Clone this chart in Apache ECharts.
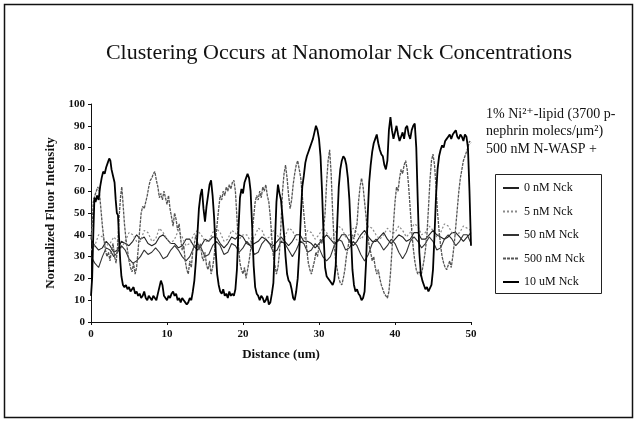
<!DOCTYPE html>
<html>
<head>
<meta charset="utf-8">
<script src="https://cdn.jsdelivr.net/npm/echarts@6/dist/echarts.min.js"></script>
<style>
html,body{margin:0;padding:0;background:#fff;}
#chart{width:638px;height:421px;}
</style>
</head>
<body>
<div id="chart"></div>
<script>
// ---------- DATA ----------
const titleText = 'Clustering Occurs at Nanomolar Nck Concentrations';
const seriesNames = ['0 nM Nck', '5 nM Nck', '50 nM Nck', '500 nM Nck', '10 uM Nck'];
const headerLines = ['1% Ni²⁺-lipid (3700 p-', 'nephrin molecs/μm²)', '500 nM N-WASP +'];

// distance grid (um) for the three flat traces
const distance = [0,0.5,1,1.5,2,2.5,3,3.5,4,4.5,5,5.5,6,6.5,7,7.5,8,8.5,9,9.5,10,
 10.5,11,11.5,12,12.5,13,13.5,14,14.5,15,15.5,16,16.5,17,17.5,18,18.5,19,19.5,20,
 20.5,21,21.5,22,22.5,23,23.5,24,24.5,25,25.5,26,26.5,27,27.5,28,28.5,29,29.5,30,
 30.5,31,31.5,32,32.5,33,33.5,34,34.5,35,35.5,36,36.5,37,37.5,38,38.5,39,39.5,40,
 40.5,41,41.5,42,42.5,43,43.5,44,44.5,45,45.5,46,46.5,47,47.5,48,48.5,49,49.5,50];

const nck0 = [38,35,33,34,37,35,32,33,37,36,35,37,40,38,39,36,35,36,39,40,38,
 36,36,34,35,38,38,35,33,35,38,37,39,39,36,34,36,39,38,40,39,
 36,35,36,37,39,38,36,35,37,39,37,35,37,40,40,37,37,36,34,36,
 38,40,38,36,37,40,40,37,35,37,40,42,39,37,37,39,41,38,36,38,
 40,39,37,38,41,41,38,38,40,42,40,39,38,39,41,41,39,37,39,41];

const nck5 = [33,35,40,39,35,36,39,37,34,37,41,40,37,37,42,41,37,38,43,41,38,
 36,38,42,39,35,36,40,42,40,37,37,41,43,41,37,38,42,41,38,40,
 40,37,39,43,42,38,39,42,40,37,39,43,42,38,36,38,42,41,38,40,
 43,41,38,40,44,43,39,40,43,41,38,40,44,43,40,38,40,43,41,41,
 44,42,39,41,45,44,40,41,44,42,39,41,45,44,41,40,41,44,43,42];

const nck50 = [30,27,25,30,34,33,30,32,35,33,29,27,28,30,33,31,32,34,32,29,30,
 33,35,33,30,28,30,34,36,34,30,31,35,37,35,31,32,36,35,32,34,
 37,35,31,32,36,38,36,32,33,37,36,33,30,33,37,36,32,33,36,34,
 30,28,30,35,38,37,33,34,37,35,31,28,31,36,38,36,33,35,38,36,
 32,29,32,37,39,37,34,36,39,37,33,34,38,40,38,35,37,40,40,36];

// [distance, intensity] for the two clustering traces
const nck500 = [[0,38],[0.15,45],[0.3,55],[0.5,58],[0.7,60],[0.9,62],[1.1,60],[1.3,52],[1.5,44],[1.7,38],[1.9,33],[2.1,30],[2.3,32],[2.5,28],[2.7,33],[2.9,36],[3.1,30],[3.3,27],[3.5,35],[3.7,48],[3.9,58],[4.05,62],[4.2,55],[4.4,45],[4.6,38],[4.8,33],[5.0,28],[5.2,25],[5.4,23],[5.6,27],[5.8,22],[6.0,25],[6.2,33],[6.4,42],[6.6,50],[6.8,53],[7.0,52],[7.2,55],[7.4,58],[7.6,62],[7.8,65],[8.0,66],[8.2,68],[8.4,69],[8.6,65],[8.8,62],[9.0,57],[9.2,59],[9.4,56],[9.6,60],[9.8,57],[10.0,54],[10.2,58],[10.4,52],[10.6,48],[10.8,44],[11.0,50],[11.2,47],[11.4,42],[11.6,45],[11.8,38],[12.0,33],[12.2,35],[12.4,28],[12.6,24],[12.8,22],[13.0,28],[13.2,25],[13.4,33],[13.6,36],[13.8,40],[14.0,37],[14.2,33],[14.4,36],[14.6,30],[14.8,28],[15.0,32],[15.2,26],[15.4,24],[15.6,28],[15.8,22],[16.0,25],[16.2,30],[16.4,38],[16.6,45],[16.8,52],[17.0,58],[17.2,56],[17.4,60],[17.6,58],[17.8,62],[18.0,60],[18.2,63],[18.4,61],[18.6,64],[18.8,65],[19.0,60],[19.2,48],[19.4,35],[19.6,27],[19.8,24],[20.0,22],[20.2,25],[20.4,20],[20.6,24],[20.8,28],[21.0,33],[21.2,40],[21.4,48],[21.6,55],[21.8,58],[22.0,56],[22.2,60],[22.4,57],[22.6,62],[22.8,60],[23.0,63],[23.2,58],[23.4,55],[23.6,48],[23.8,38],[24.0,30],[24.2,26],[24.4,22],[24.6,25],[24.8,32],[25.0,45],[25.2,60],[25.4,68],[25.6,72],[25.8,66],[26.0,58],[26.2,52],[26.4,56],[26.6,63],[26.8,68],[27.0,72],[27.2,74],[27.4,70],[27.6,66],[27.8,58],[28.0,50],[28.2,42],[28.4,33],[28.6,27],[28.8,24],[29.0,22],[29.2,25],[29.4,28],[29.6,32],[29.8,30],[30.0,35],[30.2,38],[30.4,36],[30.6,42],[30.8,50],[31.0,64],[31.2,74],[31.4,79],[31.6,68],[31.8,50],[32.0,36],[32.2,28],[32.4,24],[32.6,20],[32.8,18],[33.0,17],[33.2,20],[33.4,24],[33.6,30],[33.8,34],[34.0,38],[34.2,36],[34.4,40],[34.6,38],[34.8,42],[35.0,45],[35.2,55],[35.4,62],[35.6,66],[35.8,62],[36.0,55],[36.2,48],[36.4,40],[36.6,35],[36.8,32],[37.0,28],[37.2,30],[37.4,25],[37.6,22],[37.8,24],[38.0,20],[38.2,17],[38.4,15],[38.6,13],[38.8,12],[39.0,11],[39.2,14],[39.4,22],[39.6,33],[39.8,45],[40.0,55],[40.2,62],[40.4,60],[40.6,66],[40.8,70],[41.0,68],[41.2,72],[41.4,74],[41.6,70],[41.8,62],[42.0,52],[42.2,42],[42.4,34],[42.6,28],[42.8,24],[43.0,22],[43.2,23],[43.4,21],[43.6,24],[43.8,28],[44.0,33],[44.2,40],[44.4,52],[44.6,65],[44.8,74],[45.0,77],[45.2,72],[45.4,62],[45.6,50],[45.8,42],[46.0,35],[46.2,30],[46.4,27],[46.6,25],[46.8,24],[47.0,26],[47.2,28],[47.4,25],[47.6,30],[47.8,36],[48.0,44],[48.2,52],[48.4,60],[48.6,66],[48.8,70],[49.0,74],[49.2,76],[49.4,78],[49.6,80],[49.8,83],[50.0,82]];

const uM10 = [[0,12],[0.15,20],[0.3,40],[0.45,57],[0.6,55],[0.8,58],[1.0,56],[1.2,62],[1.4,66],[1.6,69],[1.8,68],[2.0,71],[2.2,73],[2.4,75],[2.55,74],[2.7,70],[2.9,67],[3.1,64],[3.25,56],[3.4,50],[3.55,49],[3.7,38],[3.85,28],[4.0,21],[4.2,17],[4.4,16],[4.6,17],[4.8,15],[5.0,16],[5.2,14],[5.4,15],[5.6,16],[5.8,13],[6.0,14],[6.2,12],[6.4,13],[6.6,11],[6.8,12],[7.0,14],[7.2,11],[7.4,10],[7.6,12],[7.8,11],[8.0,10],[8.2,12],[8.4,11],[8.6,10],[8.8,13],[9.0,16],[9.2,19],[9.4,17],[9.6,12],[9.8,11],[10.0,10],[10.2,12],[10.4,11],[10.6,13],[10.8,14],[11.0,12],[11.2,13],[11.4,10],[11.6,11],[11.8,9],[12.0,11],[12.2,10],[12.4,9],[12.6,8],[12.8,9],[13.0,11],[13.2,10],[13.4,14],[13.6,19],[13.8,28],[14.0,40],[14.2,52],[14.4,58],[14.6,61],[14.8,52],[15.0,46],[15.2,53],[15.4,58],[15.6,63],[15.8,65],[16.0,58],[16.2,48],[16.4,33],[16.6,22],[16.8,17],[17.0,14],[17.2,13],[17.4,15],[17.6,12],[17.8,13],[18.0,11],[18.2,14],[18.4,12],[18.6,13],[18.8,12],[19.0,15],[19.2,24],[19.4,42],[19.6,57],[19.8,61],[20.0,59],[20.2,64],[20.4,66],[20.6,68],[20.8,66],[21.0,60],[21.2,44],[21.4,26],[21.6,16],[21.8,13],[22.0,12],[22.2,10],[22.4,12],[22.6,11],[22.8,9],[23.0,10],[23.2,12],[23.4,8],[23.6,9],[23.8,13],[24.0,18],[24.2,36],[24.4,55],[24.6,63],[24.8,59],[25.0,56],[25.2,48],[25.4,40],[25.6,30],[25.8,22],[26.0,19],[26.2,18],[26.4,15],[26.6,11],[26.8,10],[27.0,14],[27.2,20],[27.4,32],[27.6,48],[27.8,62],[28.0,67],[28.2,73],[28.4,76],[28.6,78],[28.8,80],[29.0,82],[29.2,84],[29.4,87],[29.6,90],[29.8,88],[30.0,84],[30.2,76],[30.4,60],[30.6,40],[30.8,25],[31.0,21],[31.2,20],[31.4,19],[31.6,18],[31.8,17],[32.0,19],[32.2,26],[32.4,45],[32.6,62],[32.8,70],[33.0,74],[33.2,76],[33.4,75],[33.6,72],[33.8,66],[34.0,56],[34.2,40],[34.4,24],[34.6,17],[34.8,14],[35.0,15],[35.2,13],[35.4,12],[35.6,10],[35.8,11],[36.0,14],[36.2,28],[36.4,48],[36.6,64],[36.8,72],[37.0,78],[37.2,82],[37.4,84],[37.6,86],[37.8,82],[38.0,79],[38.2,77],[38.4,76],[38.6,72],[38.8,70],[39.0,74],[39.2,88],[39.4,94],[39.6,88],[39.8,84],[40.0,87],[40.2,90],[40.4,86],[40.6,83],[40.8,85],[41.0,87],[41.2,84],[41.4,89],[41.6,90],[41.8,86],[42.0,84],[42.2,88],[42.4,90],[42.6,91],[42.8,80],[43.0,55],[43.2,32],[43.4,22],[43.6,19],[43.8,17],[44.0,15],[44.2,16],[44.4,14],[44.6,14],[44.8,17],[45.0,24],[45.2,40],[45.4,58],[45.6,70],[45.8,76],[46.0,79],[46.2,81],[46.4,80],[46.6,83],[46.8,84],[47.0,85],[47.2,86],[47.4,84],[47.6,86],[47.8,87],[48.0,88],[48.2,85],[48.4,84],[48.6,86],[48.8,85],[49.0,83],[49.2,86],[49.4,85],[49.6,80],[49.8,60],[50.0,35]];

// ---------- CHART ----------
const serif = '"Liberation Serif", "DejaVu Serif", serif';
const pair = (xs, ys) => xs.map((x, i) => [x, ys[i]]);

const chart = echarts.init(document.getElementById('chart'), null, {renderer: 'canvas'});
chart.setOption({
  animation: false,
  backgroundColor: '#fff',
  title: {
    text: titleText,
    left: 334, top: 37, textAlign: 'center',
    textStyle: {fontFamily: serif, fontSize: 22, fontWeight: 'normal', color: '#111'}
  },
  grid: {left: 91, right: 167, top: 104, bottom: 99, containLabel: false},
  xAxis: {
    type: 'value', min: 0, max: 50, interval: 10,
    name: 'Distance (um)', nameLocation: 'middle', nameGap: 26,
    nameTextStyle: {fontFamily: serif, fontSize: 13, fontWeight: 'bold', color: '#111'},
    axisLine: {lineStyle: {color: '#111', width: 1}},
    axisTick: {show: true, length: 3, lineStyle: {color: '#111'}},
    axisLabel: {fontFamily: serif, fontSize: 11, fontWeight: 'bold', color: '#111', margin: 7},
    splitLine: {show: false}
  },
  yAxis: {
    type: 'value', min: 0, max: 100, interval: 10,
    name: 'Normalized Fluor Intensity', nameLocation: 'middle', nameGap: 27,
    nameTextStyle: {fontFamily: serif, fontSize: 13, fontWeight: 'bold', color: '#111'},
    axisLine: {show: true, lineStyle: {color: '#111', width: 1}},
    axisTick: {show: true, length: 3, lineStyle: {color: '#111'}},
    axisLabel: {fontFamily: serif, fontSize: 11, fontWeight: 'bold', color: '#111', margin: 6},
    splitLine: {show: false}
  },
  legend: {
    orient: 'vertical', left: 502, top: 182,
    itemWidth: 16, itemHeight: 12, itemGap: 11.5,
    padding: 0,
    itemStyle: {opacity: 0},
    textStyle: {fontFamily: serif, fontSize: 12, color: '#111', lineHeight: 12},
    data: seriesNames
  },
  graphic: [
    {type: 'rect', shape: {x: 4.5, y: 4.5, width: 628, height: 413},
     style: {fill: 'none', stroke: '#111', lineWidth: 1.5}, silent: true},
    {type: 'rect', shape: {x: 495.5, y: 174.5, width: 106, height: 119},
     style: {fill: 'none', stroke: '#222', lineWidth: 1}, silent: true},
    {type: 'text', left: 486, top: 107,
     style: {text: headerLines[0], font: '14px ' + serif, fill: '#111'}},
    {type: 'text', left: 486, top: 124,
     style: {text: headerLines[1], font: '14px ' + serif, fill: '#111'}},
    {type: 'text', left: 486, top: 142,
     style: {text: headerLines[2], font: '14px ' + serif, fill: '#111'}}
  ],
  series: [
    {name: seriesNames[0], type: 'line', symbol: 'none', data: pair(distance, nck0),
     lineStyle: {color: '#222', width: 1.1}, itemStyle: {color: '#222'}, z: 2},
    {name: seriesNames[1], type: 'line', symbol: 'none', data: pair(distance, nck5),
     lineStyle: {color: '#8a8a8a', width: 1.2, type: [2, 2]}, itemStyle: {color: '#8a8a8a'}, z: 2},
    {name: seriesNames[2], type: 'line', symbol: 'none', data: pair(distance, nck50),
     lineStyle: {color: '#333', width: 1.1}, itemStyle: {color: '#333'}, z: 2},
    {name: seriesNames[3], type: 'line', symbol: 'none', data: nck500,
     lineStyle: {color: '#555', width: 1.3, type: [3, 1]}, itemStyle: {color: '#555'}, z: 3},
    {name: seriesNames[4], type: 'line', symbol: 'none', data: uM10,
     lineStyle: {color: '#000', width: 1.8}, itemStyle: {color: '#000'}, z: 4}
  ]
});
</script>
</body>
</html>
